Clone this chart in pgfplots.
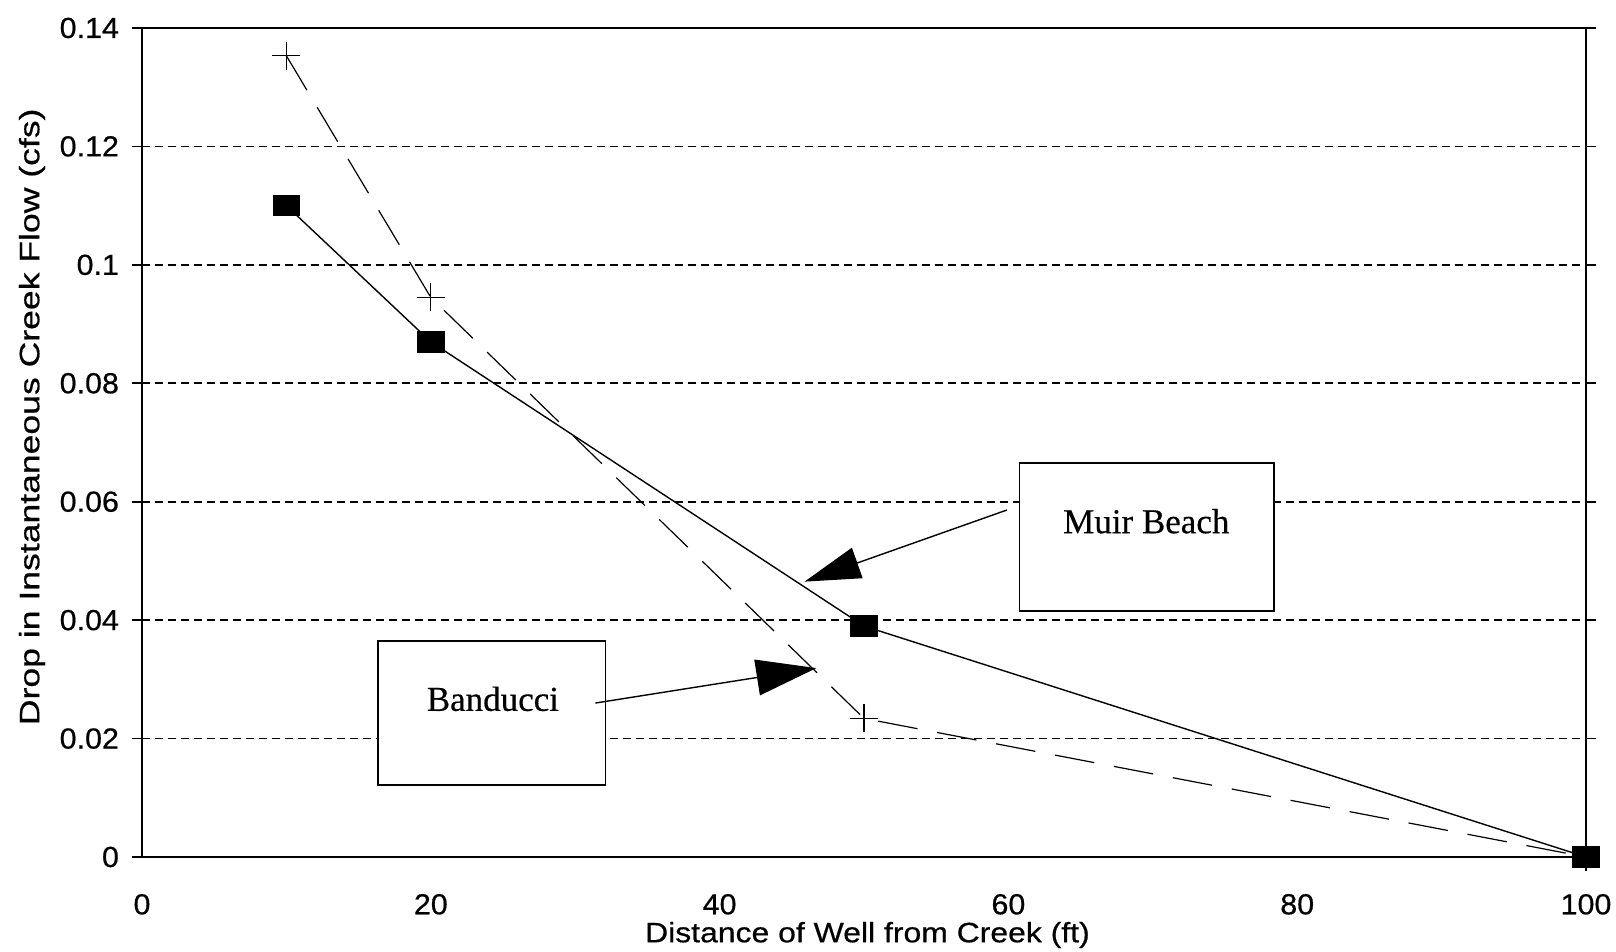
\documentclass[border=0pt]{standalone}
\usepackage{fontspec}
\setmainfont{Liberation Sans}
\newfontfamily\seriffont[FakeBold=0.4]{Liberation Serif}
\newfontfamily\xlabfont[FakeStretch=1.14,FakeBold=0.6]{Liberation Sans}
\newfontfamily\ylabfont[FakeStretch=1.27,FakeBold=0.6]{Liberation Sans}
\newfontfamily\tickfont[FakeStretch=1.05,FakeBold=0.6]{Liberation Sans}
\usepackage{pgfplots}
\usepackage{pgfplotstable}
\pgfplotsset{compat=1.18}
\usetikzlibrary{arrows.meta}

\pgfplotstableread{
x y
10 0.110
20 0.087
50 0.039
100 0
}\muir
\pgfplotstableread{
x y
10 0.1353
20 0.0945
50 0.0234
100 0
}\banducci

\begin{document}
\begin{tikzpicture}
\begin{axis}[
  name=ax,
  scale only axis,
  width=722pt, height=414.5pt,
  xmin=0, xmax=100, ymin=0, ymax=0.14,
  xtick={0,20,40,60,80,100},
  ytick={0,0.02,0.04,0.06,0.08,0.1,0.12,0.14},
  yticklabels={0,0.02,0.04,0.06,0.08,0.1,0.12,0.14},
  xticklabels={0,20,40,60,80,100},
  tick align=outside,
  major tick length=5pt,
  x tick style={draw=none},
  y tick style={black, line width=0.8pt},
  tick label style={font=\tickfont\fontsize{14.5}{17}\selectfont},
  yticklabel style={xshift=-3pt},
  xticklabel style={yshift=-10pt},
  scaled ticks=false,
  axis line style={black, line width=1pt},
  ymajorgrids,
  major grid style={black, line width=0.8pt, dash pattern=on 4pt off 2.5pt},
  xlabel={Distance of Well from Creek (ft)},
  ylabel={Drop in Instantaneous Creek Flow (cfs)},
  xlabel style={font=\xlabfont\fontsize{14}{17}\selectfont, at={(rel axis cs:0.5024,0)}, anchor=center, yshift=-39pt},
  ylabel style={font=\ylabfont\fontsize{14}{17}\selectfont, at={(rel axis cs:0,0.531)}, anchor=center, yshift=55pt},
  clip=false,
]
\addplot[black, line width=0.6pt, dash pattern=on 20pt off 10pt, mark=+, mark size=7pt, mark options={solid, line width=0.6pt}] table {\banducci};
\addplot[black, line width=0.7pt, mark=square*, mark size=6.5pt, mark options={solid, yscale=0.78}] table {\muir};

\draw[line width=0.8pt, fill=white] (axis cs:60.76,0.0415) rectangle (axis cs:78.4,0.0665);
\node[font=\seriffont\fontsize{17.5}{20}\selectfont] at (axis cs:69.55,0.0567) {Muir Beach};
\draw[line width=0.8pt, fill=white] (axis cs:16.33,0.0122) rectangle (axis cs:32.1,0.0365);
\node[font=\seriffont\fontsize{17.5}{20}\selectfont] at (axis cs:24.3,0.0267) {Banducci};

\draw[line width=0.7pt, -{Triangle[length=28pt,width=16pt]}] (axis cs:59.9,0.0586) -- (axis cs:45.88,0.0465);
\draw[line width=0.7pt, -{Triangle[length=30pt,width=18pt]}] (axis cs:31.4,0.0260) -- (axis cs:46.7,0.0319);
\end{axis}
\pgfresetboundingbox
\path ([xshift=-71pt,yshift=-47.5pt]ax.south west) rectangle ([xshift=737pt,yshift=428.5pt]ax.south west);
\end{tikzpicture}
\end{document}
